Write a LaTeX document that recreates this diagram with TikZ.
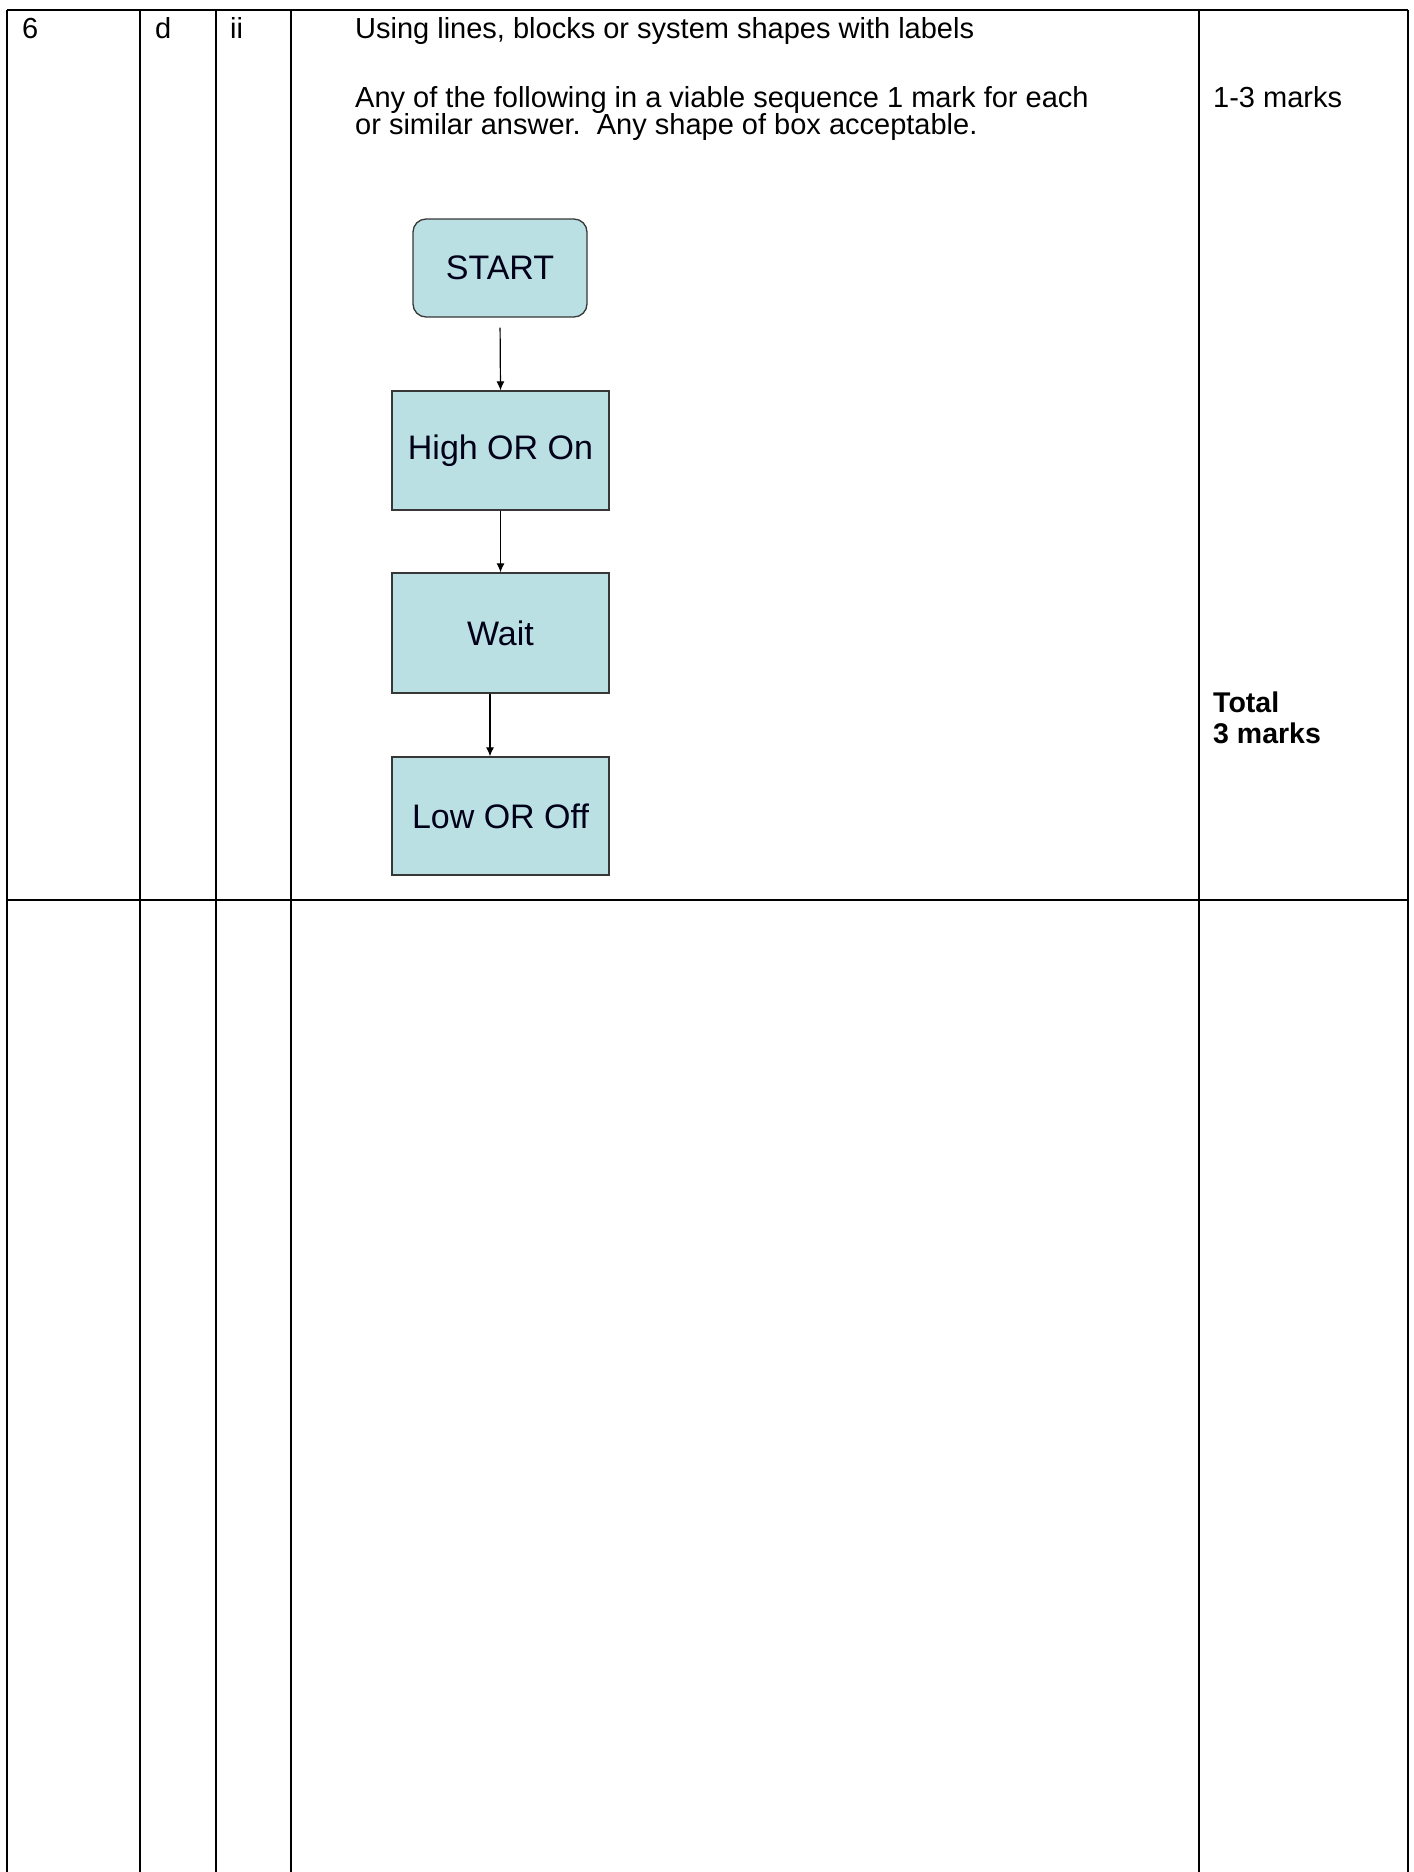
\documentclass[tikz,border=0pt]{standalone}
\usepackage{fontspec}
\setmainfont{Liberation Sans}
\usetikzlibrary{arrows.meta}
\definecolor{boxfill}{RGB}{186,224,227}
\definecolor{boxline}{RGB}{55,55,55}
\tikzset{
  tbl/.style={line width=1.6pt, black},
  cell/.style={anchor=base west, inner sep=0pt, font=\fontsize{29}{31}\selectfont},
  cellbold/.style={cell, font=\fontsize{28.5}{31}\selectfont\bfseries},
  flowbox/.style={draw=boxline, fill=boxfill, line width=1.3pt, minimum width=217pt,
    inner sep=0pt, font=\fontsize{34}{36}\selectfont, text=black!90!blue},
  flowarr/.style={line width=1.2pt, -{Latex[length=9pt,width=8pt]}}
}
\begin{document}
\begin{tikzpicture}[x=1pt,y=-1pt]
\useasboundingbox (0,0) rectangle (1414,1872);
% table grid
\draw[tbl] (7,10) -- (1408,10);
\draw[tbl] (7,900) -- (1408,900);
\foreach \xx in {7,140,216,291,1199,1408}{
  \draw[tbl] (\xx,10) -- (\xx,1872);
}
% header texts
\node[cell] (qnum) at (22,38) {6};
\node[cell] (qpart) at (155,38) {d};
\node[cell] (qsub) at (230,38) {ii};
\node[cell] (txt1) at (355,38) {Using lines, blocks or system shapes with labels};
\node[cell] (txt2) at (355,107) {Any of the following in a viable sequence 1 mark for each};
\node[cell] (txt3) at (355,134) {or similar answer.\ \ Any shape of box acceptable.};
\node[cell] (marks) at (1213,107) {1-3 marks};
\node[cellbold] (total) at (1213,712) {Total};
\node[cellbold] (total2) at (1213,743) {3 marks};
% flowchart
\node[flowbox, rounded corners=13pt, minimum width=174pt, minimum height=98pt] (start) at (500,268) {START};
\node[flowbox, minimum height=119pt] (high) at (500.5,450.5) {High OR On};
\node[flowbox, minimum height=120pt] (wait) at (500.5,633) {Wait};
\node[flowbox, minimum height=118pt] (low) at (500.5,816) {Low OR Off};
\draw[flowarr, shorten <=10pt] (start.south) -- (high.north);
\draw[flowarr] (high.south) -- (wait.north);
\draw[flowarr] ([xshift=-10.5pt]wait.south) -- ([xshift=-10.5pt]low.north);
\end{tikzpicture}
\end{document}
